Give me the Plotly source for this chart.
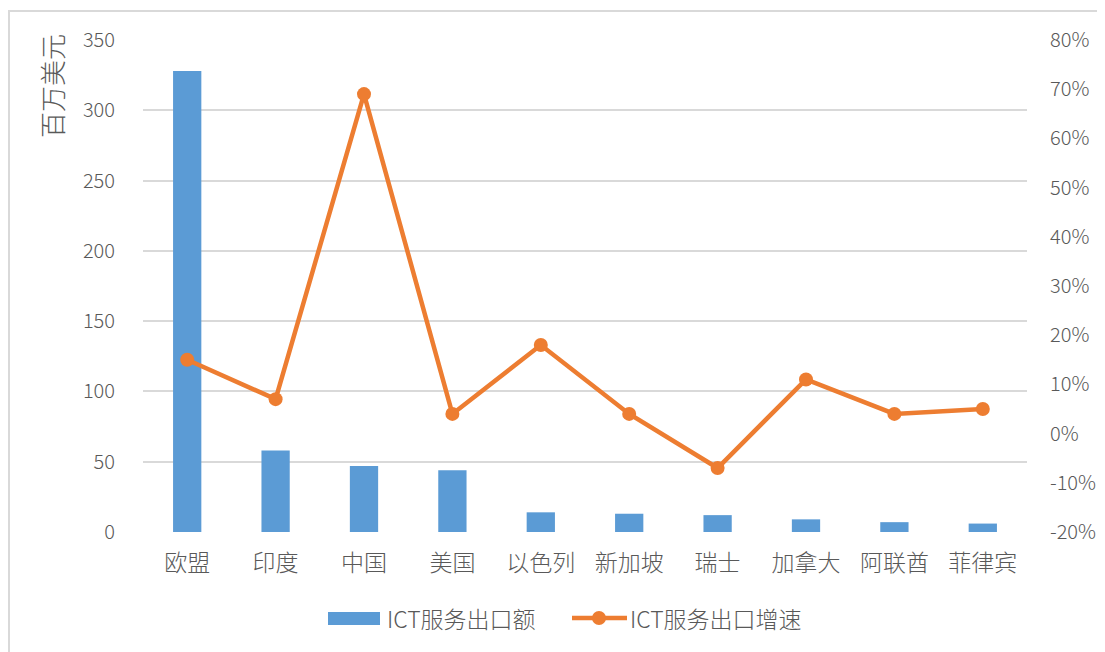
import plotly.graph_objects as go

categories = ["欧盟", "印度", "中国", "美国", "以色列", "新加坡", "瑞士", "加拿大", "阿联酋", "菲律宾"]
export_values = [328, 58, 47, 44, 14, 13, 12, 9, 7, 6]
growth_pct = [15, 7, 69, 4, 18, 4, -7, 11, 4, 5]

right_tick_vals = [-20, -10, 0, 10, 20, 30, 40, 50, 60, 70, 80]
right_tick_text = ["-20%", "-10%", "0%", "10%", "20%", "30%", "40%", "50%", "60%", "70%", "80%"]

bar_name = "ICT服务出口额"
line_name = "ICT服务出口增速"
left_title = "百万美元"

OFF = 8  # default page body margin
W, H = 1105 - OFF, 652 - OFF
L, R, T, B = 143 - OFF, 78, 40 - OFF, 120
FONT = "Noto Sans CJK SC, Open Sans, sans-serif"
GREY = "#595959"
BLUE = "#5B9BD5"
ORANGE = "#ED7D31"

pw = W - L - R
ph = H - T - B


def px(x):  # page pixel -> paper
    return (x - OFF - L) / pw


def py(y):
    return (H - B - (y - OFF)) / ph


fig = go.Figure()
fig.add_trace(go.Bar(
    x=categories, y=export_values, name=bar_name,
    marker=dict(color=BLUE, line=dict(width=0)),
    width=0.32, yaxis="y", showlegend=False,
))
fig.add_trace(go.Scatter(
    x=categories, y=growth_pct, name=line_name, yaxis="y2",
    mode="lines+markers",
    line=dict(color=ORANGE, width=4.5),
    marker=dict(color=ORANGE, size=14),
    showlegend=False,
))

fig.update_layout(
    width=W, height=H,
    margin=dict(l=L, r=R, t=T, b=B, autoexpand=False),
    paper_bgcolor="white", plot_bgcolor="white",
    font=dict(family=FONT, color=GREY, size=20, weight=300),
    xaxis=dict(
        range=[-0.5, len(categories) - 0.5],
        showgrid=False, showline=False, zeroline=False, ticks="",
        tickfont=dict(size=23, color=GREY, weight=300), ticklabelstandoff=15,
        automargin=False,
    ),
    yaxis=dict(
        range=[0, 350], dtick=50, showgrid=True, gridcolor="#D9D9D9", gridwidth=1.5,
        zeroline=False, showline=False, ticks="",
        tickfont=dict(size=20, color=GREY, weight=300), ticklabelstandoff=27,
        automargin=False,
    ),
    yaxis2=dict(
        range=[-20, 80], overlaying="y", side="right",
        tickmode="array", tickvals=right_tick_vals, ticktext=right_tick_text,
        showgrid=False, zeroline=False, showline=False, ticks="",
        tickfont=dict(size=20, color=GREY, weight=300), ticklabelstandoff=22,
        automargin=False,
    ),
    showlegend=False,
)

# left axis title placed at the top like the reference
fig.add_annotation(
    text=left_title, xref="paper", yref="paper",
    x=px(51), y=py(86), xanchor="center", yanchor="middle",
    textangle=-90, showarrow=False, font=dict(size=26, color=GREY, weight=300),
)

# outer chart border (light grey)
fig.add_shape(
    type="rect", xref="paper", yref="paper",
    x0=px(OFF + 1), x1=px(1110), y0=py(660), y1=py(11),
    line=dict(color="#D9D9D9", width=2), fillcolor="rgba(0,0,0,0)",
    layer="below",
)

# custom legend
ly = 618
fig.add_shape(type="rect", xref="paper", yref="paper",
              x0=px(328), x1=px(380), y0=py(ly + 7), y1=py(ly - 6),
              line=dict(width=0), fillcolor=BLUE)
fig.add_annotation(text=bar_name, xref="paper", yref="paper",
                   x=px(385), y=py(ly), xanchor="left", yanchor="middle",
                   showarrow=False, font=dict(size=23, color=GREY, weight=300))
fig.add_shape(type="line", xref="paper", yref="paper",
              x0=px(572), x1=px(627), y0=py(ly), y1=py(ly),
              line=dict(color=ORANGE, width=4.5))
fig.add_shape(type="circle", xref="paper", yref="paper",
              x0=px(592), x1=px(606), y0=py(ly + 7), y1=py(ly - 7),
              line=dict(width=0), fillcolor=ORANGE)
fig.add_annotation(text=line_name, xref="paper", yref="paper",
                   x=px(628), y=py(ly), xanchor="left", yanchor="middle",
                   showarrow=False, font=dict(size=23, color=GREY, weight=300))

fig.write_html("out.html")
